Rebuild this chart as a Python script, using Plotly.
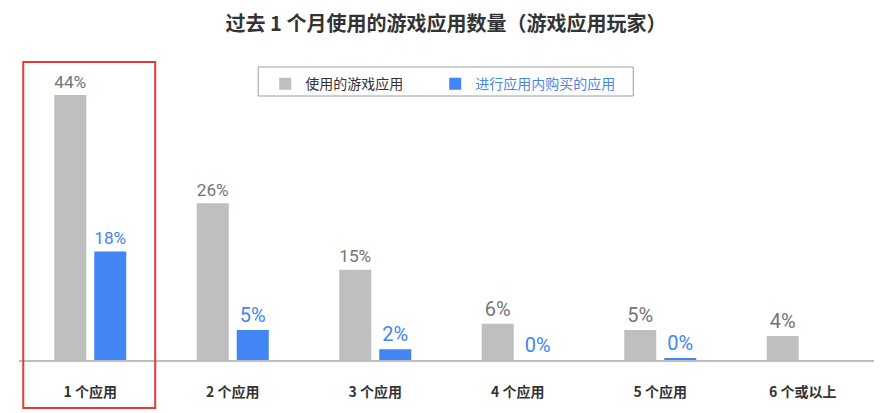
import plotly.graph_objects as go

categories = ["1 个应用", "2 个应用", "3 个应用", "4 个应用", "5 个应用", "6 个或以上"]
games_used = [44, 26, 15, 6, 5, 4]
iap_used = [18, 5, 1.8, 0, 0.3, None]

name_games = "使用的游戏应用"
name_iap = "进行应用内购买的应用"
title_text = "过去 1 个月使用的游戏应用数量（游戏应用玩家）"

GREY = "#bfbfbf"
BLUE = "#4285f4"

def labels(vals):
    return ["" if v is None else f"{v:.0f}%" for v in vals]

fig = go.Figure()
fig.add_trace(go.Bar(
    x=categories, y=games_used, name=name_games, legend="legend",
    marker=dict(color=GREY, line=dict(width=0)),
    text=labels(games_used), textposition="outside", cliponaxis=False,
    textfont=dict(color="#757575", size=20, family="Roboto"),
))
fig.add_trace(go.Bar(
    x=categories, y=iap_used, name=name_iap, legend="legend2",
    marker=dict(color=BLUE, line=dict(width=0)),
    text=labels(iap_used), textposition="outside", cliponaxis=False,
    textfont=dict(color=BLUE, size=20, family="Roboto"),
))

# highlight box around first category
fig.add_shape(type="rect", xref="x", yref="paper",
              x0=-0.47, x1=0.456, y0=-0.16, y1=0.993,
              line=dict(color="#e53935", width=2), fillcolor="rgba(0,0,0,0)")
# legend frame
fig.add_shape(type="rect", xref="paper", yref="paper",
              x0=0.2798, x1=0.7184, y0=0.88, y1=0.9767,
              line=dict(color="#9e9e9e", width=1), fillcolor="rgba(0,0,0,0)")

legend_common = dict(orientation="h", xanchor="left", y=0.973, yanchor="top",
                     borderwidth=0, bgcolor="rgba(0,0,0,0)", itemwidth=30)

fig.update_layout(
    width=876, height=405,
    margin=dict(l=11, r=10, t=52, b=53),
    paper_bgcolor="white", plot_bgcolor="white",
    barmode="group", bargap=0.4386, bargroupgap=0.2,
    font=dict(family="Noto Sans CJK SC", color="#333333"),
    title=dict(text="<b>" + title_text + "</b>", x=0.5, xanchor="center",
               y=0.9605, yanchor="middle",
               font=dict(size=20, color="#333333", family="Noto Sans CJK SC")),
    legend=dict(x=0.288, font=dict(size=14, color="#333333", family="Noto Sans CJK SC"),
                **legend_common),
    legend2=dict(x=0.4868, font=dict(size=14, color="#4a86e8", family="Noto Sans CJK SC"),
                 **legend_common),
    showlegend=True,
)
fig.update_xaxes(showline=True, linecolor="#bdbdbd", linewidth=1.5,
                 showgrid=False, ticks="outside", ticklen=18, tickcolor="rgba(0,0,0,0)",
                 tickfont=dict(size=14, color="#333333", family="Noto Sans CJK SC"),
                 tickprefix="<b>", ticksuffix="</b>")
fig.update_yaxes(range=[0, 49.8], visible=False, showgrid=False, zeroline=False)

fig.write_html("out.html")
